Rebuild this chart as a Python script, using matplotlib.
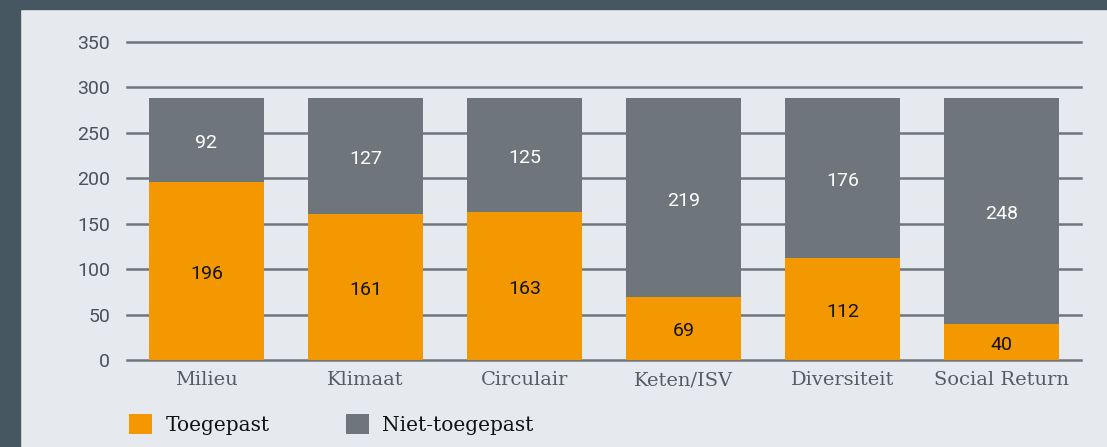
import matplotlib
matplotlib.use("Agg")
import matplotlib.pyplot as plt
from matplotlib.patches import Rectangle, Patch

categories = ["Milieu", "Klimaat", "Circulair", "Keten/ISV", "Diversiteit", "Social Return"]
toegepast = [196, 161, 163, 69, 112, 40]
niet_toegepast = [92, 127, 125, 219, 176, 248]
yticks = [0, 50, 100, 150, 200, 250, 300, 350]

orange = "#f39800"
grey = "#6f767b"
panel = "#e6e9ee"
frame = "#465761"

fig = plt.figure(figsize=(11.07, 4.47), dpi=100)
fig.patch.set_facecolor(panel)
# dark border top and left
fig.add_artist(Rectangle((0, 1 - 9 / 447), 1, 9 / 447, transform=fig.transFigure,
                         color=frame, zorder=0))
fig.add_artist(Rectangle((0, 0), 20 / 1107, 1, transform=fig.transFigure,
                         color=frame, zorder=0))

ax = fig.add_axes([127 / 1107, 87 / 447, 954 / 1107, 318 / 447])
ax.set_facecolor(panel)

x = range(len(categories))
b1 = ax.bar(x, toegepast, width=0.723, color=orange, zorder=3)
b2 = ax.bar(x, niet_toegepast, width=0.723, bottom=toegepast, color=grey, zorder=3)

ax.bar_label(b1, label_type="center", color="#111111", fontsize=14,
             family="Roboto", padding=-2)
ax.bar_label(b2, label_type="center", color="white", fontsize=14,
             family="Roboto", padding=-2)

ax.set_xlim(-0.5, 5.5)
ax.set_ylim(0, 350)
ax.set_yticks(yticks)
ax.yaxis.grid(True, color="#6f767b", linewidth=1.8, zorder=0)
ax.set_axisbelow(True)
for gl in ax.get_ygridlines():
    gl.set_clip_on(False)
for s in ax.spines.values():
    s.set_visible(False)
ax.tick_params(axis="both", length=0)
ax.tick_params(axis="y", pad=12, labelsize=14, labelcolor="#4a5359")
for t in ax.get_yticklabels():
    t.set_family("Roboto")
ax.set_xticks(list(x))
ax.set_xticklabels(categories, family="DejaVu Serif", fontsize=14, color="#555d62")
ax.tick_params(axis="x", pad=8)

handles = [Patch(facecolor=orange, label="Toegepast"),
           Patch(facecolor=grey, label="Niet-toegepast")]
fig.legend(handles=handles, loc="lower left", bbox_to_anchor=(111 / 1107, -6 / 447),
           ncol=2, frameon=False, handlelength=1.15, handleheight=1.15,
           columnspacing=3.8, handletextpad=0.65, labelcolor="#111111",
           prop={"family": "DejaVu Serif", "size": 14.5})

fig.savefig("out.png", dpi=100, facecolor=panel)
